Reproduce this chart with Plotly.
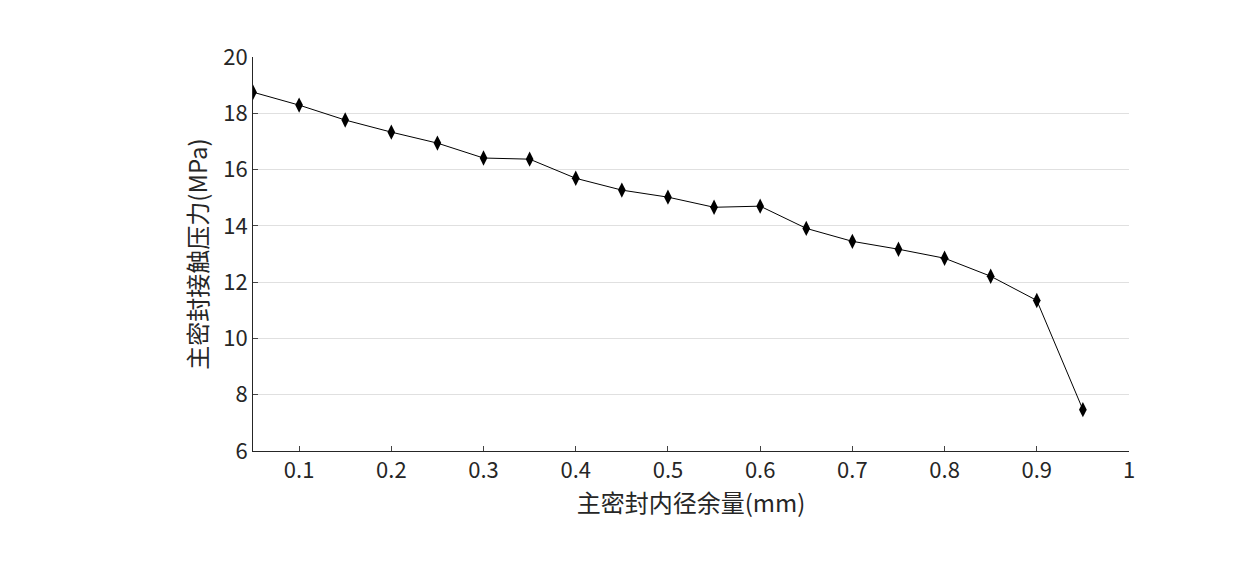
import plotly.graph_objects as go

x_vals = [0.05,0.1,0.15,0.2,0.25,0.3,0.35,0.4,0.45,0.5,0.55,0.6,0.65,0.7,0.75,0.8,0.85,0.9,0.95]
y_vals = [18.75,18.29,17.76,17.33,16.94,16.41,16.37,15.69,15.27,15.02,14.66,14.70,13.91,13.45,13.17,12.85,12.21,11.35,7.47]
x_ticks = [0.1,0.2,0.3,0.4,0.5,0.6,0.7,0.8,0.9,1]
x_labels = ["0.1","0.2","0.3","0.4","0.5","0.6","0.7","0.8","0.9","1"]
y_ticks = [6,8,10,12,14,16,18,20]

fig = go.Figure(go.Scatter(x=x_vals, y=y_vals, mode="lines+markers",
    line=dict(color="black", width=1),
    marker=dict(symbol="diamond-tall", size=11, color="black")))
font = "Noto Sans CJK SC"
fig.update_layout(width=1253, height=564, plot_bgcolor="white", paper_bgcolor="white",
    margin=dict(l=245, r=132, t=49, b=121), showlegend=False,
    font=dict(family=font, size=22, color="#262626"))
fig.update_xaxes(range=[0.05,1], tickvals=x_ticks, ticktext=x_labels, showgrid=False,
    showline=True, linecolor="#262626", ticks="inside", ticklen=5,
    title=dict(text="主密封内径余量(mm)", font=dict(size=24), standoff=8), zeroline=False)
fig.update_yaxes(range=[6,20], tickvals=y_ticks, showgrid=True, gridcolor="#e0e0e0",
    showline=True, linecolor="#262626", ticks="inside", ticklen=5,
    title=dict(text="主密封接触压力(MPa)", font=dict(size=24), standoff=8), zeroline=False)
fig.write_html("out.html")
